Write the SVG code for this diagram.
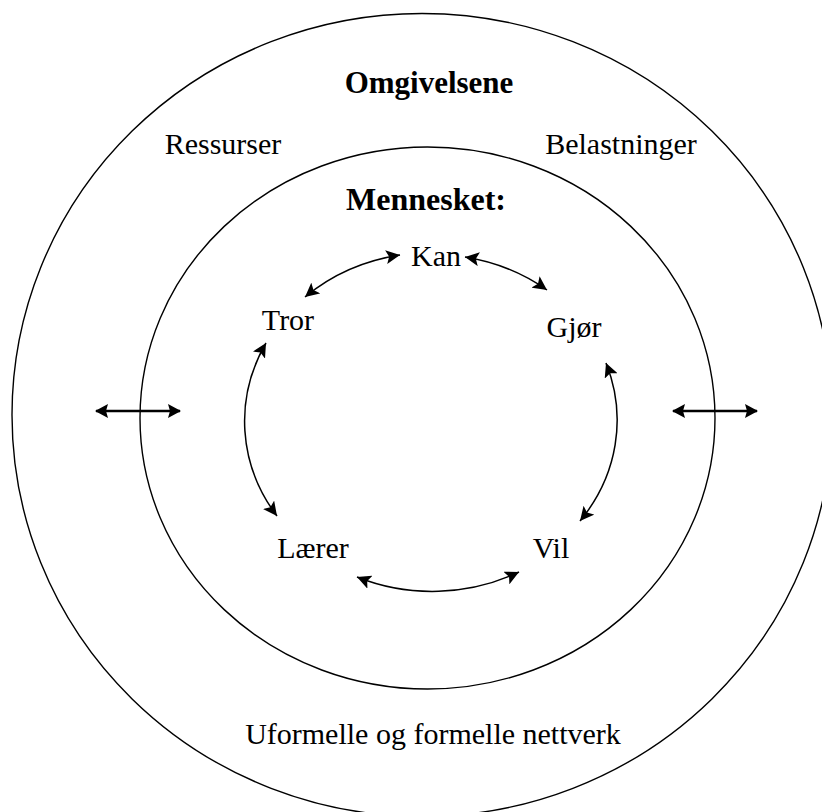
<svg xmlns="http://www.w3.org/2000/svg" width="822" height="812" viewBox="0 0 822 812">
<style>
.ring{fill:none;stroke:#000;stroke-width:1.4}
.t{font-family:"Liberation Serif","Times New Roman",serif;font-size:30px;fill:#000;text-anchor:middle}
.b{font-weight:bold;font-size:31px}
.arc{fill:none;stroke:#000;stroke-width:1.5;marker-start:url(#ah);marker-end:url(#ah)}
.dbl{fill:none;stroke:#000;stroke-width:2.6;marker-start:url(#ah2);marker-end:url(#ah2)}
</style>
<defs>
<marker id="ah" markerUnits="userSpaceOnUse" markerWidth="15" markerHeight="14" refX="14" refY="7" orient="auto-start-reverse">
<path d="M0,0 L14,7 L0,14 L3,7 z" fill="#000"/>
</marker>
<marker id="ah2" markerUnits="userSpaceOnUse" markerWidth="15" markerHeight="14" refX="12" refY="7" orient="auto-start-reverse">
<path d="M0,0 L13,7 L0,14 L2,7 z" fill="#000"/>
</marker>
</defs>
<rect width="822" height="812" fill="#fff"/>
<g id="omgivelsene">
<ellipse class="ring" cx="422" cy="415" rx="410" ry="401.5"/>
<text class="t b" x="429" y="93">Omgivelsene</text>
</g>
<g id="ressurser"><text class="t" x="223" y="154">Ressurser</text></g>
<g id="belastninger"><text class="t" x="621" y="154">Belastninger</text></g>
<g id="mennesket">
<ellipse class="ring" cx="427.5" cy="418" rx="287.5" ry="271"/>
<text class="t b" x="426" y="210" style="font-size:32px">Mennesket:</text>
</g>
<g id="kan"><text class="t" x="436" y="266">Kan</text></g>
<g id="tror"><text class="t" x="288" y="330">Tror</text></g>
<g id="gjor"><text class="t" x="574" y="337">Gjør</text></g>
<g id="larer"><text class="t" x="313" y="558">Lærer</text></g>
<g id="vil"><text class="t" x="551" y="558">Vil</text></g>
<g id="nettverk"><text class="t" x="433" y="744">Uformelle og formelle nettverk</text></g>
<g id="connectors">
<path class="arc" d="M305 297 A186 168 0 0 1 400 255"/>
<path class="arc" d="M465 257 A186 168 0 0 1 547 290"/>
<path class="arc" d="M266 343 A186 168 0 0 0 277 516"/>
<path class="arc" d="M606 363 A186 168 0 0 1 580 521"/>
<path class="arc" d="M519 572 A186 168 0 0 1 357 577"/>
<path class="dbl" d="M96 411 H180"/>
<path class="dbl" d="M673 411 H757"/>
</g>
</svg>
